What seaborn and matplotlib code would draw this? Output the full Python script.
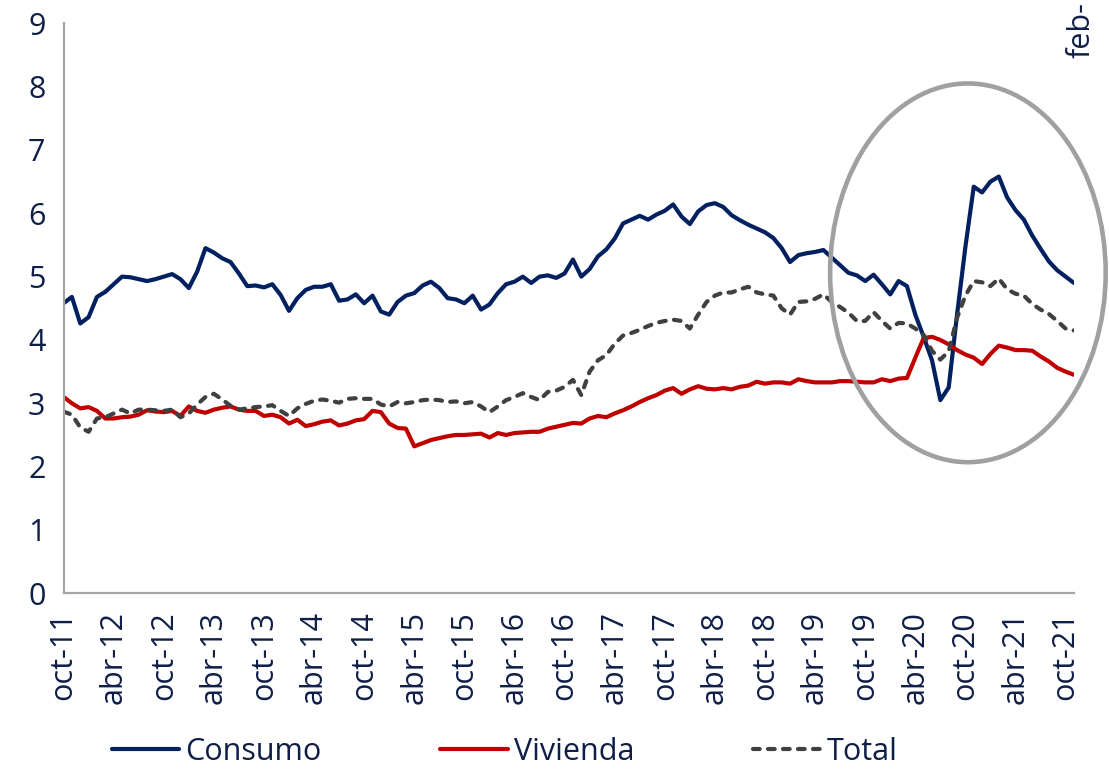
import numpy as np
import pandas as pd
import matplotlib
matplotlib.use("Agg")
import matplotlib.pyplot as plt
import seaborn as sns
from matplotlib.patches import Ellipse

# Monthly periods oct-11 ... nov-21
meses_abr = ["ene", "feb", "mar", "abr", "may", "jun", "jul", "ago", "sep", "oct", "nov", "dic"]
periodos = [f"{meses_abr[(9 + i) % 12]}-{11 + (9 + i) // 12:02d}" for i in range(122)]

etiquetas_x = ["oct-11", "abr-12", "oct-12", "abr-13", "oct-13", "abr-14", "oct-14",
               "abr-15", "oct-15", "abr-16", "oct-16", "abr-17", "oct-17", "abr-18",
               "oct-18", "abr-19", "oct-19", "abr-20", "oct-20", "abr-21", "oct-21"]

consumo = [4.58, 4.68, 4.26, 4.36, 4.68, 4.76, 4.88, 5.00, 4.99, 4.96,
           4.93, 4.96, 5.00, 5.04, 4.96, 4.82, 5.08, 5.45, 5.38, 5.29,
           5.23, 5.05, 4.85, 4.86, 4.83, 4.88, 4.71, 4.46, 4.66, 4.79,
           4.84, 4.84, 4.88, 4.62, 4.64, 4.72, 4.58, 4.70, 4.45, 4.40,
           4.60, 4.70, 4.74, 4.86, 4.92, 4.82, 4.66, 4.64, 4.58, 4.70,
           4.48, 4.56, 4.74, 4.88, 4.92, 5.00, 4.90, 5.00, 5.02, 4.98,
           5.05, 5.27, 5.00, 5.12, 5.32, 5.43, 5.60, 5.84, 5.90, 5.96,
           5.90, 5.98, 6.04, 6.14, 5.95, 5.83, 6.03, 6.13, 6.16, 6.10,
           5.97, 5.89, 5.82, 5.76, 5.70, 5.61, 5.45, 5.23, 5.34, 5.37,
           5.39, 5.42, 5.30, 5.18, 5.06, 5.02, 4.93, 5.03, 4.88, 4.72,
           4.93, 4.85, 4.40, 4.05, 3.68, 3.05, 3.25, 4.40, 5.47, 6.42,
           6.33, 6.50, 6.58, 6.25, 6.05, 5.90, 5.65, 5.44, 5.24, 5.10,
           5.00, 4.90]

vivienda = [3.10, 3.00, 2.92, 2.94, 2.88, 2.76, 2.76, 2.78, 2.79, 2.82,
            2.89, 2.87, 2.86, 2.88, 2.80, 2.95, 2.88, 2.85, 2.90, 2.93,
            2.95, 2.90, 2.88, 2.88, 2.80, 2.82, 2.78, 2.68, 2.74, 2.64,
            2.67, 2.71, 2.73, 2.65, 2.68, 2.73, 2.75, 2.88, 2.86, 2.68,
            2.61, 2.60, 2.32, 2.37, 2.42, 2.45, 2.48, 2.50, 2.50, 2.51,
            2.52, 2.46, 2.53, 2.50, 2.53, 2.54, 2.55, 2.55, 2.60, 2.63,
            2.66, 2.69, 2.68, 2.76, 2.80, 2.78, 2.84, 2.89, 2.95, 3.02,
            3.08, 3.13, 3.20, 3.24, 3.15, 3.22, 3.27, 3.23, 3.22, 3.24,
            3.22, 3.26, 3.28, 3.34, 3.31, 3.33, 3.33, 3.31, 3.38, 3.35,
            3.33, 3.33, 3.33, 3.35, 3.35, 3.34, 3.33, 3.33, 3.38, 3.35,
            3.39, 3.40, 3.72, 4.03, 4.05, 4.00, 3.93, 3.84, 3.77, 3.72,
            3.62, 3.78, 3.91, 3.88, 3.84, 3.84, 3.83, 3.74, 3.66, 3.56,
            3.50, 3.45]

total = [2.87, 2.82, 2.62, 2.55, 2.76, 2.78, 2.84, 2.90, 2.84, 2.90,
         2.90, 2.89, 2.88, 2.90, 2.78, 2.84, 2.98, 3.10, 3.15, 3.06,
         2.96, 2.90, 2.92, 2.94, 2.95, 2.97, 2.88, 2.80, 2.92, 2.99,
         3.04, 3.06, 3.04, 3.01, 3.07, 3.08, 3.07, 3.07, 2.98, 2.95,
         3.02, 3.00, 3.02, 3.05, 3.06, 3.05, 3.02, 3.03, 3.00, 3.02,
         2.95, 2.86, 2.95, 3.05, 3.10, 3.16, 3.10, 3.05, 3.18, 3.20,
         3.26, 3.37, 3.13, 3.50, 3.68, 3.76, 3.94, 4.07, 4.11, 4.16,
         4.22, 4.27, 4.30, 4.32, 4.30, 4.18, 4.40, 4.60, 4.70, 4.75,
         4.75, 4.80, 4.84, 4.75, 4.72, 4.70, 4.50, 4.40, 4.60, 4.61,
         4.65, 4.72, 4.60, 4.52, 4.43, 4.30, 4.30, 4.44, 4.30, 4.18,
         4.27, 4.26, 4.18, 4.08, 3.83, 3.69, 3.82, 4.35, 4.70, 4.93,
         4.91, 4.85, 4.97, 4.80, 4.73, 4.70, 4.57, 4.48, 4.41, 4.30,
         4.18, 4.15]

df = pd.DataFrame({"periodo": periodos, "Consumo": consumo,
                   "Vivienda": vivienda, "Total": total})
df["pos"] = np.arange(len(df))

sns.set_style("white")
plt.rcParams["font.family"] = ["Open Sans", "DejaVu Sans"]

navy = "#0f1e46"
eje = "#a6a6a6"

fig = plt.figure(figsize=(11.09, 7.72), dpi=100)
ax = fig.add_axes([0.0573, 0.2315, 0.9111, 0.7383])

estilos = {
    "Consumo": dict(color="#002060", linestyle="-", solid_capstyle="round",
                    solid_joinstyle="round"),
    "Vivienda": dict(color="#c00000", linestyle="-", solid_capstyle="round",
                     solid_joinstyle="round"),
    "Total": dict(color="#404040", linestyle=(0, (1.6, 2.0)), dash_capstyle="round",
                  dash_joinstyle="round"),
}
for serie, kw in estilos.items():
    sns.lineplot(data=df, x="pos", y=serie, ax=ax, lw=3, label=serie, **kw)

ax.set_xlim(0, len(df) - 1)
ax.set_ylim(0, 9)
ax.set_yticks(range(0, 10))
pos_ticks = [periodos.index(e) for e in etiquetas_x]
ax.set_xticks(pos_ticks)
ax.set_xticklabels(etiquetas_x, rotation=90)
ax.set_xlabel("")
ax.set_ylabel("")

for lado in ["top", "right"]:
    ax.spines[lado].set_visible(False)
for lado in ["left", "bottom"]:
    ax.spines[lado].set_color(eje)
    ax.spines[lado].set_linewidth(1.6)
ax.tick_params(axis="both", which="major", direction="out", length=7, width=1.6,
               color=eje, labelcolor=navy, labelsize=22)
ax.tick_params(axis="y", pad=6)
ax.tick_params(axis="x", pad=6)

# Highlight of the pandemic period
ax.add_patch(Ellipse((108.3, 5.06), width=33.0, height=5.98, fill=False,
                     edgecolor="#a0a0a0", lw=3.3, clip_on=False, zorder=5))

handles, labels = ax.get_legend_handles_labels()
ax.legend_.remove()
leg = fig.legend(handles, labels, loc="center", bbox_to_anchor=(0.455, 0.026),
                 ncol=3, frameon=False, fontsize=22, handlelength=2.2,
                 handletextpad=0.2, columnspacing=3.9)
for t in leg.get_texts():
    t.set_color(navy)

fig.text(0.975, 0.925, "feb-", rotation=90, ha="center", va="bottom",
         fontsize=22, color=navy)

fig.savefig("out.png", dpi=100)
